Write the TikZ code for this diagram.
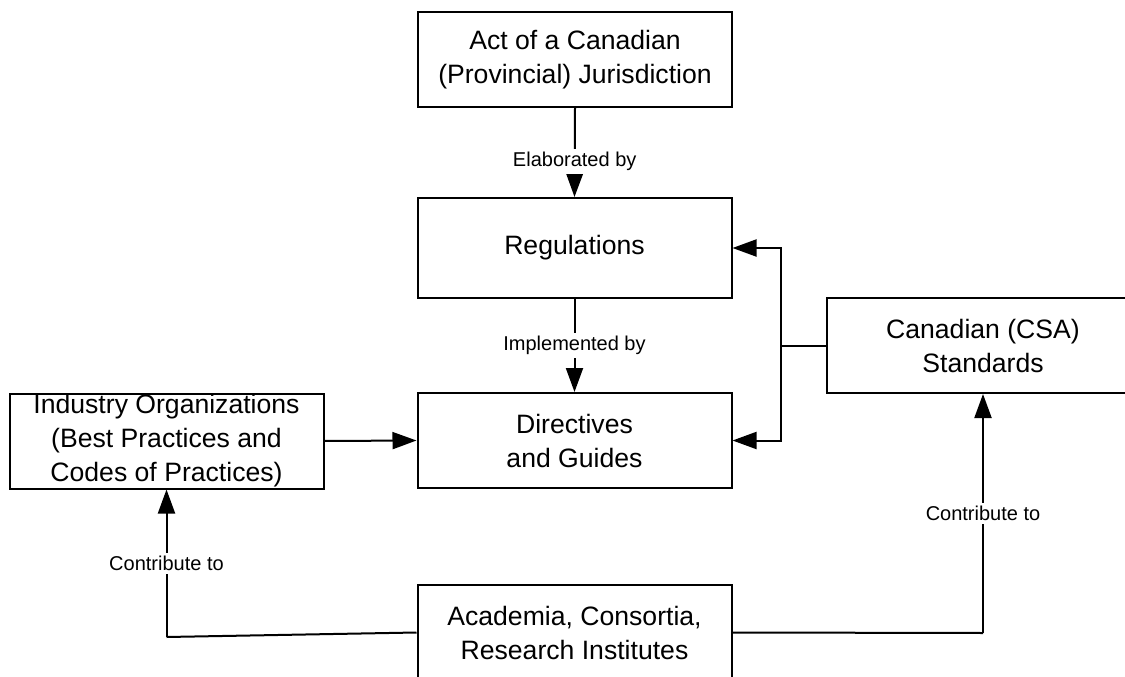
\documentclass[tikz,border=0pt]{standalone}
\usepackage{fontspec}
\setmainfont{Liberation Sans}
\usetikzlibrary{arrows.meta}
\tikzset{
  box/.style={draw=black, line width=2pt, fill=white, minimum width=314pt, minimum height=95pt,
    inner sep=0pt, align=center, font=\fontsize{26.6}{34}\selectfont},
  conn/.style={draw=black, line width=2pt},
  arr/.style={conn, -{Triangle[length=24pt,width=17pt]}},
  lbl/.style={fill=white, inner sep=3pt, font=\fontsize{20}{24}\selectfont}
}
\begin{document}
\begin{tikzpicture}[x=1pt,y=-1pt]
\useasboundingbox (0,0) rectangle (1125,677);
\clip (0,0) rectangle (1125,677);
\node[box] (act) at (575,59.5) {Act of a Canadian\\(Provincial) Jurisdiction};
\node[box, minimum height=100pt] (reg) at (574.5,248) {Regulations};
\node[box] (dir) at (574.5,440.5) {Directives\\and Guides};
\node[box] (ind) at (166.5,441) {Industry Organizations\\(Best Practices and\\Codes of Practices)};
\node[box, minimum width=312pt] (can) at (983,345.5) {Canadian (CSA)\\Standards};
\node[box] (acad) at (574.5,632.5) {Academia, Consortia,\\Research Institutes};
\coordinate (j) at (781,345.5);
\coordinate (bl) at (166.5,637);
\coordinate (br) at (983,633);
\draw[arr] (act.south) -- node[lbl, pos=0.6] {Elaborated by} (reg.north);
\draw[arr] (reg.south) -- node[lbl] {Implemented by} (dir.north);
\draw[conn] (can.west) -- (j);
\draw[arr] (j) |- (reg.east);
\draw[arr] (j) |- (dir.east);
\draw[arr] (ind.east) -- (dir.west);
\draw[conn] (acad.west) -- (bl);
\draw[arr] (bl) -- node[lbl] {Contribute to} (ind.south);
\draw[conn] (acad.east) -- (br);
\draw[arr] (br) -- node[lbl] {Contribute to} (can.south);
\end{tikzpicture}
\end{document}
